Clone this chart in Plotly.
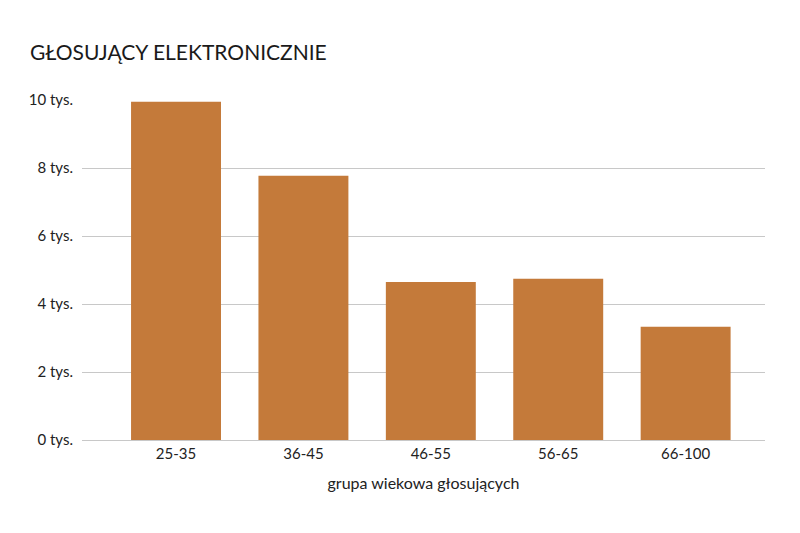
import plotly.graph_objects as go

categories = ["25-35", "36-45", "46-55", "56-65", "66-100"]
values = [9.95, 7.77, 4.65, 4.74, 3.33]
ytick_vals = [0, 2, 4, 6, 8, 10]
ytick_text = ["0 tys.", "2 tys.", "4 tys.", "6 tys.", "8 tys.", "10 tys."]

FONT = "Lato"
bar_color = "#C47A3A"

fig = go.Figure(go.Bar(
    x=list(range(len(categories))),
    y=values,
    width=0.706,
    marker=dict(color=bar_color, line=dict(width=0)),
    hoverinfo="skip",
))

fig.update_layout(
    width=800, height=533,
    margin=dict(l=82, r=35, t=100, b=93),
    paper_bgcolor="white", plot_bgcolor="white",
    showlegend=False,
    font=dict(family=FONT, color="#222222", size=15),
    title=dict(
        text="GŁOSUJĄCY ELEKTRONICZNIE",
        x=30/800, xanchor="left", xref="container",
        y=1-53/533, yanchor="middle", yref="container",
        font=dict(family=FONT, size=21, color="#1a1a1a"),
    ),
    xaxis=dict(
        range=[-0.738, 4.623],
        tickmode="array",
        tickvals=list(range(len(categories))),
        ticktext=categories,
        showgrid=False, zeroline=False,
        showline=True, linecolor="#c8c8c8", linewidth=1,
        ticks="", ticklabelstandoff=0,
        tickfont=dict(size=15, family=FONT),
        title=dict(text="grupa wiekowa głosujących", standoff=16,
                   font=dict(size=16, family=FONT)),
        fixedrange=True,
    ),
    yaxis=dict(
        range=[0, 10],
        tickmode="array",
        tickvals=ytick_vals,
        ticktext=ytick_text,
        showgrid=True, gridcolor="#c8c8c8", gridwidth=1,
        zeroline=False, showline=False,
        ticks="", ticklabelstandoff=8,
        tickfont=dict(size=15, family=FONT),
        fixedrange=True,
    ),
)
fig.update_xaxes(type="linear")

fig.write_html("out.html")
